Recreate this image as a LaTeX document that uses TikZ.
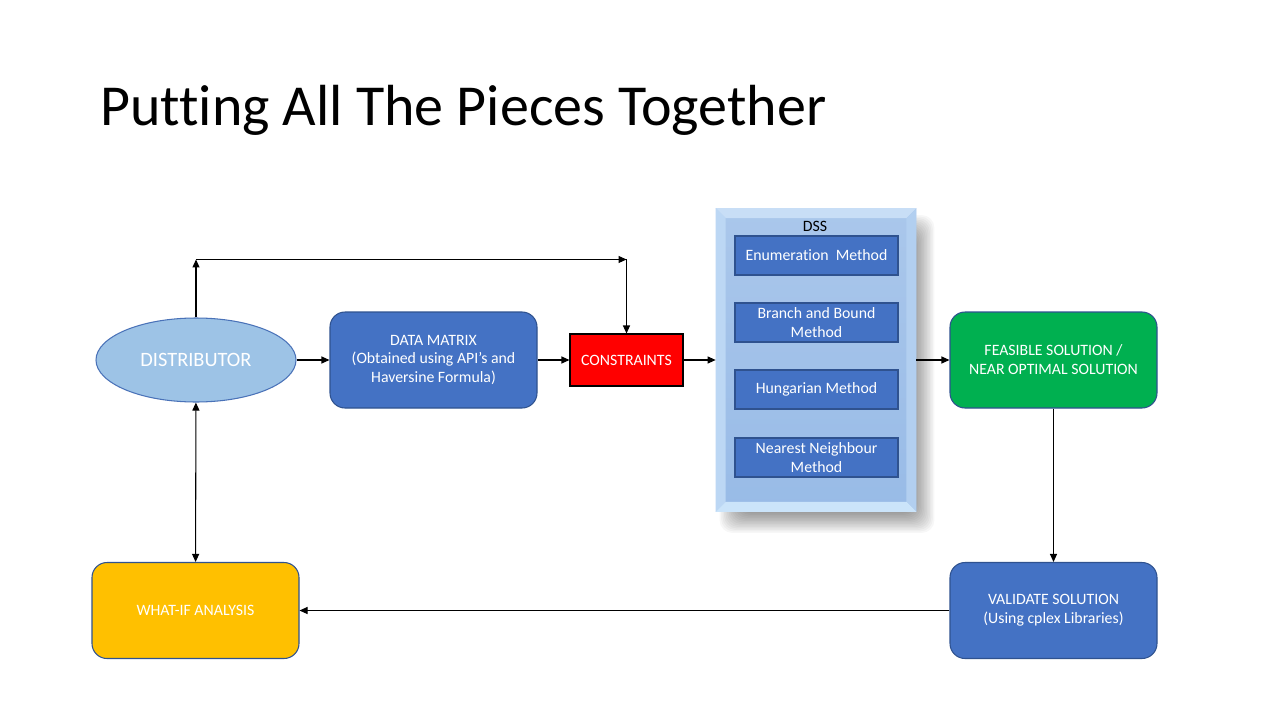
\documentclass[tikz,border=0pt]{standalone}
\usepackage{fontspec}
\setmainfont{Carlito}[Ligatures=NoCommon]
\usepackage{xcolor}
\usetikzlibrary{arrows.meta, positioning, shapes.geometric, calc, backgrounds}

\definecolor{DistFill}{HTML}{9DC3E6}
\definecolor{DistLine}{HTML}{4A72B8}
\definecolor{BoxBlue}{HTML}{4472C4}
\definecolor{BoxLine}{HTML}{2F528F}
\definecolor{BoxRed}{HTML}{FF0000}
\definecolor{BoxGreen}{HTML}{00B050}
\definecolor{BoxAmber}{HTML}{FFC000}
\definecolor{DSSTop}{HTML}{AAC7EB}
\definecolor{DSSBot}{HTML}{98BBE7}
\definecolor{BevTop}{HTML}{C8DEF6}
\definecolor{BevLeft}{HTML}{BCD7F4}
\definecolor{BevRight}{HTML}{B2CFF0}
\definecolor{BevBot}{HTML}{CBE4FA}

\begin{document}
\begin{tikzpicture}[>={Triangle[length=1.6mm,width=1.4mm]}, every node/.style={text=white, align=center, inner sep=0pt},
	post/.style={->, line width=0.6pt, black},
	box/.style={draw=BoxLine, line width=0.6pt, minimum width=4.14cm, minimum height=1.92cm, rounded corners=0.3cm, font=\fontsize{9}{10.8}\selectfont},
	method/.style={draw=BoxLine, fill=BoxBlue, line width=0.6pt, minimum width=3.26cm, minimum height=0.78cm, font=\fontsize{9}{10.8}\selectfont}]

	\useasboundingbox (0,0) rectangle (25.6,-14.4);
	\begin{scope}[on background layer]
		\fill[white] (0,0) rectangle (25.6,-14.4);
	\end{scope}

	\node (TITLE) [anchor=base west, text=black, font=\fontsize{33}{38}\selectfont] at (2.0,-2.5)
		{Putting All The Pieces Together};

	\node [draw=DistLine, fill=DistFill, ellipse, line width=0.6pt] (DIST) at (3.92,-7.2)
		[minimum width=4cm, minimum height=1.68cm, font=\fontsize{11.6}{13}\selectfont]
		{DISTRIBUTOR};

	\node [box, fill=BoxBlue] (DM)
		[node distance=4.75cm, right of=DIST]
		{DATA MATRIX\\(Obtained using API’s and\\Haversine Formula)};

	\node [draw=black, fill=BoxRed, line width=0.6pt] (CONS)
		[node distance=3.86cm, right of=DM, minimum width=2.26cm, minimum height=1.04cm, font=\fontsize{9}{10.8}\selectfont]
		{CONSTRAINTS};

	\node (DSS)
		[node distance=3.79cm, right of=CONS, minimum width=4cm, minimum height=6.06cm, top color=DSSTop, bottom color=DSSBot]
		{};

	\node [box, fill=BoxGreen] (FEAS)
		[node distance=4.75cm, right of=DSS]
		{FEASIBLE SOLUTION /\\NEAR OPTIMAL SOLUTION};

	\node [box, fill=BoxBlue] (VAL)
		[node distance=5.01cm, below of=FEAS]
		{VALIDATE SOLUTION\\(Using cplex Libraries)};

	\node [box, fill=BoxAmber] (WHAT)
		[node distance=17.16cm, left of=VAL]
		{WHAT-IF ANALYSIS};

	\begin{scope}[on background layer]
		\foreach \s in {-0.14,-0.11,...,0.32}
			\fill[black, opacity=0.03, rounded corners=0.25cm]
				($(DSS.north west)+(0.22+\s,-0.28-\s)$) rectangle ($(DSS.south east)+(0.22-\s,-0.28+\s)$);
	\end{scope}

	\fill[BevTop] (DSS.north west) -- (DSS.north east) -- ($(DSS.north east)+(-0.2,-0.2)$) -- ($(DSS.north west)+(0.2,-0.2)$) -- cycle;
	\fill[BevLeft] (DSS.north west) -- ($(DSS.north west)+(0.2,-0.2)$) -- ($(DSS.south west)+(0.2,0.2)$) -- (DSS.south west) -- cycle;
	\fill[BevRight] (DSS.north east) -- (DSS.south east) -- ($(DSS.south east)+(-0.2,0.2)$) -- ($(DSS.north east)+(-0.2,-0.2)$) -- cycle;
	\fill[BevBot] (DSS.south west) -- (DSS.south east) -- ($(DSS.south east)+(-0.2,0.2)$) -- ($(DSS.south west)+(0.2,0.2)$) -- cycle;

	\node (DSSL) [text=black, font=\fontsize{9}{10.8}\selectfont] at (16.3,-4.52) {DSS};

	\node [method] (EM) at (16.33,-5.11) {Enumeration~ Method};
	\node [method] (BB) [node distance=1.34cm, below of=EM] {Branch and Bound\\Method};
	\node [method] (HM) [node distance=1.34cm, below of=BB] {Hungarian Method};
	\node [method] (NN) [node distance=1.36cm, below of=HM] {Nearest Neighbour\\Method};

	\coordinate (UL) at ($(DIST.north)+(0,1.16)$);
	\coordinate (UR) at (UL -| CONS.north);

	\draw[post] (DIST) -- (DM);
	\draw[post] (DM) -- (CONS);
	\draw[post] (CONS) -- (CONS -| DSS.west);
	\draw[post] (DSS.east |- FEAS) -- (FEAS);
	\draw[post] (FEAS) -- (VAL);
	\draw[post] (VAL) -- (WHAT);
	\draw[post] (DIST.north) -- (UL);
	\draw[post] (UL) -- (UR);
	\draw[post] (UR) -- (CONS.north);
	\draw[post, <->] (DIST) -- (WHAT);

\end{tikzpicture}
\end{document}
